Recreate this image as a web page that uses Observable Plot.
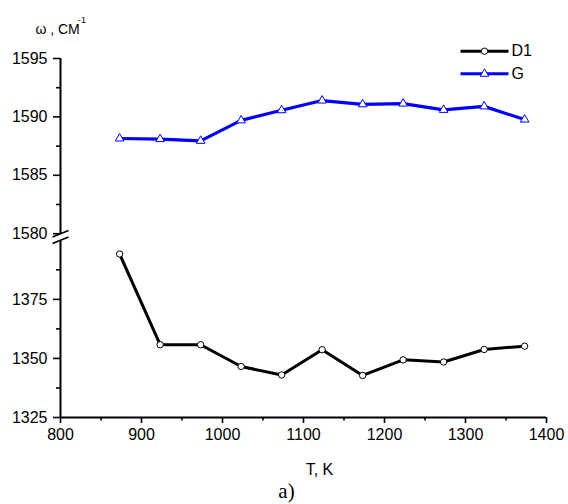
<!DOCTYPE html>
<html>
<head>
<meta charset="utf-8">
<script src="https://cdn.jsdelivr.net/npm/d3@7"></script>
<script src="https://cdn.jsdelivr.net/npm/@observablehq/plot@0.6"></script>
<style>
  html, body { margin: 0; padding: 0; background: #fff; }
  #chart svg { display: block; }
</style>
</head>
<body>
<div id="chart"></div>
<script>
// ---- data ----
const temperatures = [873, 923, 973, 1023, 1073, 1123, 1173, 1223, 1273, 1323, 1373];
const d1Values = [1394.2, 1355.8, 1355.8, 1346.6, 1343.0, 1353.7, 1342.8, 1349.4, 1348.5, 1353.8, 1355.2];
const gValues  = [1588.15, 1588.1, 1587.95, 1589.7, 1590.57, 1591.4, 1591.08, 1591.14, 1590.6, 1590.9, 1589.77];
const seriesNames = ["D1", "G"];
const xTicks = [800, 900, 1000, 1100, 1200, 1300, 1400];
const xMinorTicks = [850, 950, 1050, 1150, 1250, 1350];
const yTicks = [1325, 1350, 1375, 1580, 1585, 1590, 1595];
const yMinorTicks = [1337.5, 1362.5, 1387.5, 1582.5, 1587.5, 1592.5];
const yLowDomain = [1325, 1400];
const yHighDomain = [1580, 1595];
const xDomain = [800, 1400];
const yTitle = "ω , СМ";
const yTitleSup = "-1";
const xTitle = "T, K";
const panelLabel = "a)";

const d1 = temperatures.map((t, i) => ({T: t, w: d1Values[i]}));
const g = temperatures.map((t, i) => ({T: t, w: gValues[i]}));

// broken-axis transform: the upper segment (1580–1595) is stretched and
// placed just above the lower segment (1325–1400)
const upperStart = 1402.8;   // transformed position of 1580
const upperStretch = 4.944;  // upper segment scale relative to lower
const breakT = v => v < 1500 ? v : upperStart + (v - yHighDomain[0]) * upperStretch;
const breakInv = v => v < 1401 ? v : yHighDomain[0] + (v - upperStart) / upperStretch;

// custom symbols
const slash = {draw(ctx) { ctx.moveTo(-8, 3.2); ctx.lineTo(8, -3.2); }};
const hline = {draw(ctx) { ctx.moveTo(-24, 0); ctx.lineTo(24, 0); }};

const W = 568, H = 504;
const mL = 60, mR = 22, mT = 58, mB = 87;
const font = "'Liberation Sans', Arial, Helvetica, sans-serif";
const fmt = d => String(d);
const fmtY = v => String(Math.round(breakInv(v)));

const chart = Plot.plot({
  width: W, height: H,
  marginLeft: mL, marginRight: mR, marginTop: mT, marginBottom: mB,
  style: {fontFamily: font, fontSize: "16px", color: "black", background: "white", overflow: "visible"},
  x: {domain: xDomain, label: null},
  y: {transform: breakT, domain: [breakT(yLowDomain[0]), breakT(yHighDomain[1])], label: null},
  marks: [
    // axis lines
    Plot.ruleY([yLowDomain[0]], {x1: xDomain[0], x2: xDomain[1], stroke: "black", strokeWidth: 2}),
    Plot.ruleX([xDomain[0]], {y1: yLowDomain[0], y2: yLowDomain[1], stroke: "black", strokeWidth: 2}),
    Plot.ruleX([xDomain[0]], {y1: yHighDomain[0], y2: yHighDomain[1], stroke: "black", strokeWidth: 2}),
    // break marks
    Plot.dot([yLowDomain[1], yHighDomain[0]], {x: () => xDomain[0], y: d => d, symbol: slash, stroke: "black", strokeWidth: 1.6, fill: "none"}),
    // axes
    Plot.axisX({ticks: xTicks, tickFormat: fmt, tickSize: 6, tickPadding: 5, strokeWidth: 1.6, label: null}),
    Plot.axisX({ticks: xMinorTicks, tickSize: 3.5, strokeWidth: 1.6, text: null, label: null}),
    Plot.axisY({ticks: yTicks.map(breakT), tickFormat: fmtY, tickSize: 7, tickPadding: 6, strokeWidth: 1.6, label: null}),
    Plot.axisY({ticks: yMinorTicks.map(breakT), tickSize: 4, strokeWidth: 1.6, text: null, label: null}),
    // series
    Plot.line(g, {x: "T", y: "w", stroke: "#0000ff", strokeWidth: 3.2}),
    Plot.dot(g, {x: "T", y: "w", symbol: "triangle", r: 3.2, stroke: "#0000ff", strokeWidth: 1, fill: "white"}),
    Plot.line(d1, {x: "T", y: "w", stroke: "black", strokeWidth: 3}),
    Plot.dot(d1, {x: "T", y: "w", symbol: "circle", r: 3.2, stroke: "black", strokeWidth: 1, fill: "white"}),
    // legend
    Plot.dot([seriesNames[0]], {frameAnchor: "top-right", dx: -62, dy: -7.3, symbol: hline, stroke: "black", strokeWidth: 3}),
    Plot.dot([seriesNames[0]], {frameAnchor: "top-right", dx: -62, dy: -7.3, symbol: "circle", r: 3.2, stroke: "black", strokeWidth: 1, fill: "white"}),
    Plot.text([seriesNames[0]], {frameAnchor: "top-right", dx: -35, dy: -7.3, text: d => d, textAnchor: "start", lineAnchor: "middle", fontSize: 16, fill: "black"}),
    Plot.dot([seriesNames[1]], {frameAnchor: "top-right", dx: -62, dy: 15.3, symbol: hline, stroke: "#0000ff", strokeWidth: 3}),
    Plot.dot([seriesNames[1]], {frameAnchor: "top-right", dx: -62, dy: 15.3, symbol: "triangle", r: 3.2, stroke: "#0000ff", strokeWidth: 1, fill: "white"}),
    Plot.text([seriesNames[1]], {frameAnchor: "top-right", dx: -35, dy: 15.3, text: d => d, textAnchor: "start", lineAnchor: "middle", fontSize: 16, fill: "black"}),
    // titles
    Plot.text([yTitle], {frameAnchor: "top-left", dx: -25, dy: -28.5, text: d => d, textAnchor: "start", lineAnchor: "middle", fontSize: 14, fill: "black"}),
    Plot.text([yTitleSup], {frameAnchor: "top-left", dx: 17.5, dy: -38, text: d => d, textAnchor: "start", lineAnchor: "middle", fontSize: 9, fill: "black"}),
    Plot.text([xTitle], {frameAnchor: "bottom", dx: 16, dy: 52.5, text: d => d, lineAnchor: "middle", fontSize: 16, fill: "black"}),
    Plot.text([panelLabel], {frameAnchor: "bottom", dx: -17, dy: 74, text: d => d, lineAnchor: "middle", fontSize: 21, fill: "black", fontFamily: "'Liberation Serif', 'Times New Roman', serif"})
  ]
});
document.getElementById("chart").appendChild(chart);
</script>
</body>
</html>
